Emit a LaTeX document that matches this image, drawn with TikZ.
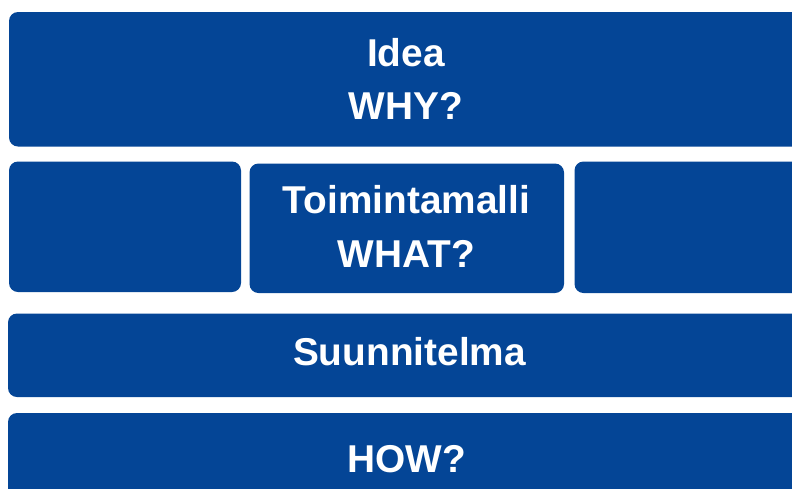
\documentclass[tikz,border=0pt]{standalone}
\usepackage{fontspec}
\setmainfont{Liberation Sans}
\definecolor{blockblue}{RGB}{4,69,150}

\begin{document}
\begin{tikzpicture}[x=1pt, y=-1pt,
  block/.style={fill=blockblue, rounded corners=9pt},
  label/.style={text=white, anchor=base, inner sep=0pt,
    font=\fontsize{38.8}{46}\selectfont\bfseries}]
\useasboundingbox (0, 0) rectangle (792, 488);

\fill [block] (9, 12) rectangle (830, 146.5);
\fill [block] (9, 161.5) rectangle (241, 292);
\fill [block] (249.5, 163.5) rectangle (564, 293);
\fill [block] (574.5, 161.5) rectangle (830, 293);
\fill [block] (8, 313.5) rectangle (830, 397);
\fill [block] (8, 413) rectangle (830, 530);

%%%%%%%%%%%%%%%%%%%%%%%%%%%%%%%%%%%%%%%%

\node [label] (idea) at (406, 66) {Idea};
\node [label] (why) at (406, 119) {WHY?};
\node [label] (toimintamalli) at (406.5, 213) {Toimintamalli};
\node [label] (what) at (406.5, 267) {WHAT?};
\node [label] (suunnitelma) at (409.5, 365) {Suunnitelma};
\node [label] (how) at (407, 472) {HOW?};

\end{tikzpicture}
\end{document}
